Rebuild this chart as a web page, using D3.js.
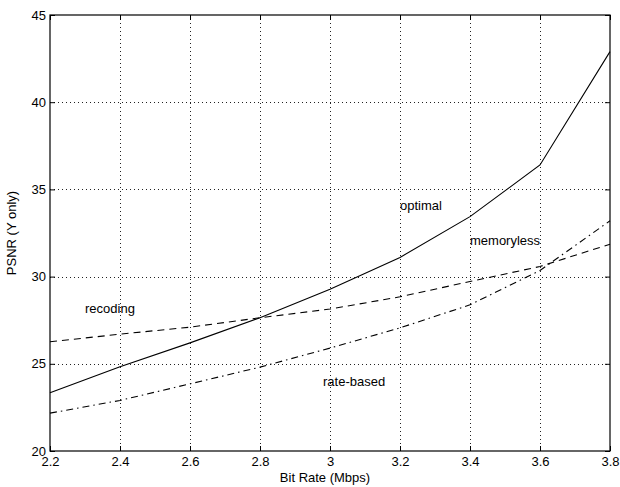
<!DOCTYPE html>
<html>
<head>
<meta charset="utf-8">
<script src="https://cdn.jsdelivr.net/npm/d3@7"></script>
<style>
  body { margin: 0; background: #fff; }
  text { font-family: "Liberation Sans", Arial, sans-serif; }
</style>
</head>
<body>
<div id="chart"></div>
<script>
const bitRates = [2.2, 2.4, 2.6, 2.8, 3.0, 3.2, 3.4, 3.6, 3.8];
const optimal = [23.34, 24.83, 26.2, 27.64, 29.28, 31.1, 33.44, 36.4, 42.9];
const recoding = [26.26, 26.7, 27.1, 27.64, 28.14, 28.84, 29.72, 30.58, 31.86];
const rateBased = [22.17, 22.9, 23.85, 24.81, 25.9, 27.06, 28.38, 30.35, 33.2];
const xTicks = [2.2, 2.4, 2.6, 2.8, 3, 3.2, 3.4, 3.6, 3.8];
const yTicks = [20, 25, 30, 35, 40, 45];

const width = 620, height = 487,
    margin = { top: 15, right: 10, bottom: 36, left: 50 };

const svg = d3.select("#chart").append("svg")
    .attr("width", width).attr("height", height);

const x = d3.scaleLinear().domain([2.2, 3.8])
    .range([margin.left, width - margin.right]);
const y = d3.scaleLinear().domain([20, 45])
    .range([height - margin.bottom, margin.top]);

// dotted grid
const grid = svg.append("g").attr("stroke", "#222").attr("stroke-width", 1)
    .attr("stroke-dasharray", "1,3");
grid.selectAll(".gx").data(xTicks.slice(1, -1)).join("line")
    .attr("x1", d => Math.round(x(d)) + 0.5).attr("x2", d => Math.round(x(d)) + 0.5)
    .attr("y1", y(45)).attr("y2", y(20));
grid.selectAll(".gy").data(yTicks.slice(1, -1)).join("line")
    .attr("y1", d => Math.round(y(d)) + 0.5).attr("y2", d => Math.round(y(d)) + 0.5)
    .attr("x1", x(2.2)).attr("x2", x(3.8));

// axes with inward ticks
const tl = 5;
svg.append("g").attr("transform", `translate(0,${y(20)})`)
    .call(d3.axisBottom(x).tickValues(xTicks).tickSize(-tl).tickPadding(6)
        .tickFormat(d3.format("~g")))
    .call(g => g.select(".domain").remove());
svg.append("g").attr("transform", `translate(0,${y(45)})`)
    .call(d3.axisTop(x).tickValues(xTicks).tickSize(-tl).tickFormat(""))
    .call(g => g.select(".domain").remove());
svg.append("g").attr("transform", `translate(${x(2.2)},0)`)
    .call(d3.axisLeft(y).tickValues(yTicks).tickSize(-tl).tickPadding(4))
    .call(g => g.select(".domain").remove());
svg.append("g").attr("transform", `translate(${x(3.8)},0)`)
    .call(d3.axisRight(y).tickValues(yTicks).tickSize(-tl).tickFormat(""))
    .call(g => g.select(".domain").remove());
svg.selectAll(".tick text").attr("font-size", 13)
    .attr("font-family", "Liberation Sans, Arial, sans-serif").attr("fill", "#000");
svg.selectAll(".tick line").attr("stroke", "#000");

svg.append("rect")
    .attr("x", x(2.2)).attr("y", y(45))
    .attr("width", x(3.8) - x(2.2)).attr("height", y(20) - y(45))
    .attr("fill", "none").attr("stroke", "#000").attr("stroke-width", 1.2);

// series
const series = [
    { vals: optimal, dash: null },
    { vals: recoding, dash: "7,5" },
    { vals: rateBased, dash: "7,4,1.5,4" }
];
const line = d3.line().x((d, i) => x(bitRates[i])).y(d => y(d));
svg.append("g").selectAll("path").data(series).join("path")
    .attr("d", d => line(d.vals))
    .attr("fill", "none").attr("stroke", "#000").attr("stroke-width", 1.1)
    .attr("stroke-dasharray", d => d.dash);

// annotations
const notes = [
    { t: "optimal", bx: 3.2, by: 33.8 },
    { t: "memoryless", bx: 3.4, by: 31.8 },
    { t: "recoding", bx: 2.3, by: 27.9 },
    { t: "rate-based", bx: 2.98, by: 23.7 }
];
svg.append("g").selectAll("text").data(notes).join("text")
    .attr("x", d => x(d.bx)).attr("y", d => y(d.by))
    .attr("font-size", 13).text(d => d.t);

svg.append("text").attr("x", 325).attr("y", 482)
    .attr("text-anchor", "middle").attr("font-size", 13).text("Bit Rate (Mbps)");
svg.append("text")
    .attr("transform", `translate(16,${(y(20) + y(45)) / 2}) rotate(-90)`)
    .attr("text-anchor", "middle").attr("font-size", 13).text("PSNR (Y only)");
</script>
</body>
</html>
